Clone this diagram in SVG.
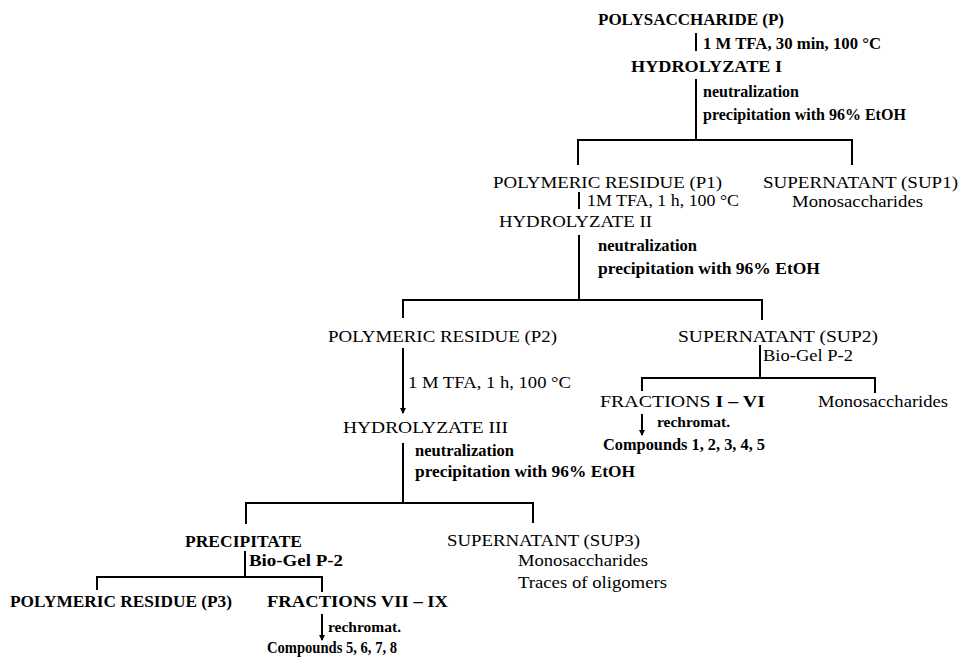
<svg xmlns="http://www.w3.org/2000/svg" width="962" height="658" viewBox="0 0 962 658">
<defs>
<marker id="tip" viewBox="0 0 6 6" refX="5" refY="3" markerWidth="3" markerHeight="3" orient="auto" markerUnits="strokeWidth">
<path d="M0,0 L6,3 L0,6 z" fill="#000"/>
</marker>
</defs>
<style>
text{font-family:"Liberation Serif","Times New Roman",serif;font-size:16.5px;fill:#000}
.b{font-weight:bold;font-size:16.5px}
.t{font-weight:bold;font-size:16px}
.sm{font-weight:bold;font-size:15.5px}
.c line{stroke:#000;stroke-width:2;fill:none}
.c .a{marker-end:url(#tip)}
</style>
<rect width="962" height="658" fill="#fff"/>
<g class="c" id="connectors">
<line x1="696" y1="33" x2="696" y2="51"/>
<line x1="696" y1="79" x2="696" y2="141"/>
<line x1="578" y1="140" x2="852" y2="140"/>
<line x1="578" y1="139" x2="578" y2="165"/>
<line x1="852" y1="139" x2="852" y2="165"/>
<line x1="579" y1="192" x2="579" y2="209"/>
<line x1="579" y1="235" x2="579" y2="301"/>
<line x1="402" y1="300" x2="762" y2="300"/>
<line x1="403" y1="299" x2="403" y2="318"/>
<line x1="762" y1="299" x2="762" y2="320"/>
<line class="a" x1="403" y1="348" x2="403" y2="413"/>
<line x1="760" y1="345" x2="760" y2="379"/>
<line x1="642" y1="378" x2="875" y2="378"/>
<line x1="642" y1="377" x2="642" y2="391"/>
<line x1="875" y1="377" x2="875" y2="393"/>
<line class="a" x1="642" y1="414" x2="642" y2="435"/>
<line x1="403" y1="443" x2="403" y2="504"/>
<line x1="246" y1="503" x2="533" y2="503"/>
<line x1="246" y1="502" x2="246" y2="524"/>
<line x1="533" y1="502" x2="533" y2="523"/>
<line x1="245" y1="551" x2="245" y2="578"/>
<line x1="97" y1="577" x2="322" y2="577"/>
<line x1="97" y1="576" x2="97" y2="590"/>
<line x1="322" y1="576" x2="322" y2="592"/>
<line class="a" x1="322" y1="614" x2="322" y2="640"/>
</g>
<g id="n-p"><text class="t" x="598" y="25" textLength="186" lengthAdjust="spacingAndGlyphs">POLYSACCHARIDE (P)</text></g>
<g id="e-tfa1"><text class="t" x="703" y="49" textLength="178" lengthAdjust="spacingAndGlyphs">1 M TFA, 30 min, 100 °C</text></g>
<g id="n-h1"><text class="t" x="631" y="72" textLength="151" lengthAdjust="spacingAndGlyphs">HYDROLYZATE  I</text></g>
<g id="e-neut1"><text class="t" x="703" y="97">neutralization</text><text class="t" x="703" y="120">precipitation with 96% EtOH</text></g>
<g id="n-p1"><text x="493" y="188" textLength="229" lengthAdjust="spacingAndGlyphs">POLYMERIC RESIDUE (P1)</text></g>
<g id="n-sup1"><text x="763" y="188" textLength="195" lengthAdjust="spacingAndGlyphs">SUPERNATANT (SUP1)</text><text x="792" y="207" textLength="131" lengthAdjust="spacingAndGlyphs">Monosaccharides</text></g>
<g id="e-tfa2"><text x="587" y="206" textLength="152" lengthAdjust="spacingAndGlyphs">1M TFA, 1 h, 100 °C</text></g>
<g id="n-h2"><text x="499" y="227" textLength="153" lengthAdjust="spacingAndGlyphs">HYDROLYZATE  II</text></g>
<g id="e-neut2"><text class="b" x="598" y="251">neutralization</text><text class="b" x="598" y="274" textLength="222" lengthAdjust="spacingAndGlyphs">precipitation with 96% EtOH</text></g>
<g id="n-p2"><text x="328" y="342" textLength="229" lengthAdjust="spacingAndGlyphs">POLYMERIC RESIDUE (P2)</text></g>
<g id="e-tfa3"><text x="408" y="388" textLength="163" lengthAdjust="spacingAndGlyphs">1 M TFA, 1 h, 100 °C</text></g>
<g id="n-h3"><text x="343" y="433" textLength="165" lengthAdjust="spacingAndGlyphs">HYDROLYZATE  III</text></g>
<g id="e-neut3"><text class="b" x="415" y="456">neutralization</text><text class="b" x="415" y="477" textLength="220" lengthAdjust="spacingAndGlyphs">precipitation with 96% EtOH</text></g>
<g id="n-sup2"><text x="678" y="342" textLength="200" lengthAdjust="spacingAndGlyphs">SUPERNATANT (SUP2)</text></g>
<g id="e-bio1"><text x="763" y="361" textLength="90" lengthAdjust="spacingAndGlyphs">Bio-Gel P-2</text></g>
<g id="n-fr1"><text x="600" y="407" textLength="165" lengthAdjust="spacingAndGlyphs">FRACTIONS  <tspan class="b">I – VI</tspan></text></g>
<g id="n-mono2"><text x="818" y="407" textLength="130" lengthAdjust="spacingAndGlyphs">Monosaccharides</text></g>
<g id="e-re1"><text class="sm" x="657" y="427">rechromat.</text></g>
<g id="n-c1"><text class="t" x="603" y="450" textLength="162" lengthAdjust="spacingAndGlyphs">Compounds 1, 2, 3, 4, 5</text></g>
<g id="n-prec"><text class="b" x="185" y="547" textLength="117" lengthAdjust="spacingAndGlyphs">PRECIPITATE</text></g>
<g id="e-bio2"><text class="b" x="249" y="566" textLength="94" lengthAdjust="spacingAndGlyphs">Bio-Gel P-2</text></g>
<g id="n-sup3"><text x="447" y="546" textLength="193" lengthAdjust="spacingAndGlyphs">SUPERNATANT (SUP3)</text><text x="518" y="566" textLength="130" lengthAdjust="spacingAndGlyphs">Monosaccharides</text><text x="518" y="588" textLength="149" lengthAdjust="spacingAndGlyphs">Traces of oligomers</text></g>
<g id="n-p3"><text class="b" x="10" y="607" textLength="222" lengthAdjust="spacingAndGlyphs">POLYMERIC RESIDUE (P3)</text></g>
<g id="n-fr2"><text class="b" x="267" y="607" textLength="181" lengthAdjust="spacingAndGlyphs">FRACTIONS  VII – IX</text></g>
<g id="e-re2"><text class="sm" x="328" y="632">rechromat.</text></g>
<g id="n-c2"><text class="t" x="267" y="653" textLength="130" lengthAdjust="spacingAndGlyphs">Compounds 5, 6, 7, 8</text></g>
</svg>
